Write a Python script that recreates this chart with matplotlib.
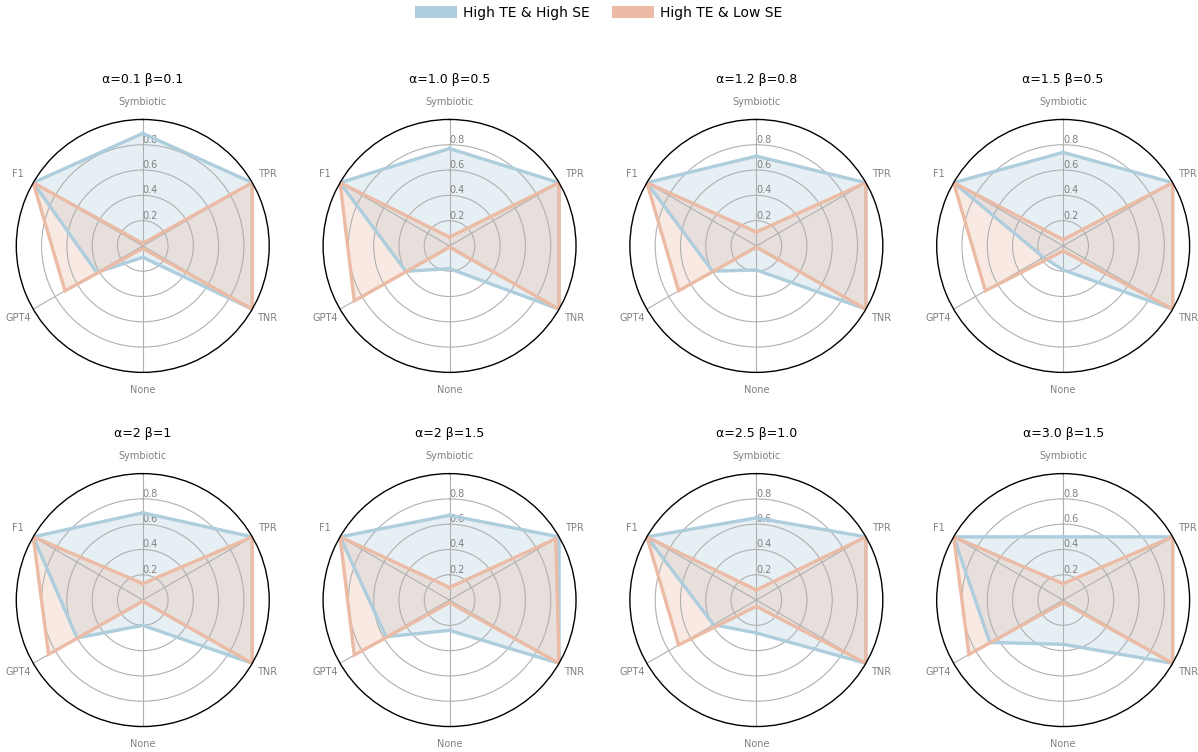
import numpy as np
import matplotlib.pyplot as plt
from matplotlib.patches import Patch

# axes, clockwise from the top
categories = ["Symbiotic", "TPR", "TNR", "None", "GPT4", "F1"]

titles = ["α=0.1 β=0.1", "α=1.0 β=0.5", "α=1.2 β=0.8", "α=1.5 β=0.5",
          "α=2 β=1", "α=2 β=1.5", "α=2.5 β=1.0", "α=3.0 β=1.5"]

# one row per setting: Symbiotic, TPR, TNR, None, GPT4, F1
high_se = [
    [0.89, 1.00, 1.00, 0.09, 0.42, 1.00],
    [0.77, 1.00, 1.00, 0.18, 0.40, 1.00],
    [0.71, 1.00, 1.00, 0.19, 0.40, 1.00],
    [0.74, 1.00, 1.00, 0.19, 0.18, 1.00],
    [0.69, 1.00, 1.00, 0.20, 0.60, 1.00],
    [0.67, 1.00, 1.00, 0.24, 0.58, 1.00],
    [0.65, 1.00, 1.00, 0.26, 0.39, 1.00],
    [0.50, 1.00, 1.00, 0.35, 0.67, 1.00],
]
low_se = [
    [0.02, 1.00, 1.00, 0.02, 0.71, 1.00],
    [0.07, 1.00, 1.00, 0.01, 0.87, 1.00],
    [0.11, 1.00, 1.00, 0.01, 0.71, 1.00],
    [0.05, 1.00, 1.00, 0.04, 0.71, 1.00],
    [0.13, 1.00, 1.00, 0.01, 0.86, 1.00],
    [0.10, 0.97, 1.00, 0.02, 0.87, 1.00],
    [0.08, 1.00, 1.00, 0.05, 0.71, 1.00],
    [0.13, 1.00, 1.00, 0.02, 0.86, 1.00],
]

series_names = ["High TE & High SE", "High TE & Low SE"]
colors = ["#aecddd", "#ebbba5"]

angles = np.linspace(0, 2 * np.pi, len(categories), endpoint=False)
closed = np.concatenate([angles, angles[:1]])

fig, axes = plt.subplots(2, 4, figsize=(11.98, 7.52), dpi=100,
                         subplot_kw=dict(polar=True))
fig.subplots_adjust(left=0.0136, right=0.993, bottom=0.0336, top=0.8414,
                    wspace=0.213, hspace=0.398)

for ax, title, hi, lo in zip(axes.flat, titles, high_se, low_se):
    ax.set_theta_offset(np.pi / 2)
    ax.set_theta_direction(-1)
    for vals, c in zip([hi, lo], colors):
        v = np.concatenate([vals, vals[:1]])
        ax.plot(closed, v, color=c, lw=2.4, solid_joinstyle="miter")
        ax.fill(closed, v, color=c, alpha=0.3)
    ax.set_ylim(0, 1)
    ax.set_xticks(angles)
    ax.set_xticklabels(categories, color="#808080", fontsize=7)
    ax.tick_params(axis="x", pad=2)
    ax.set_yticks([0.2, 0.4, 0.6, 0.8])
    ax.set_yticklabels(["0.2", "0.4", "0.6", "0.8"], color="#808080", fontsize=7)
    ax.set_rlabel_position(0)
    ax.grid(color="#b0b0b0", lw=0.8)
    ax.spines["polar"].set_color("black")
    ax.spines["polar"].set_linewidth(1.0)
    ax.set_title(title, fontsize=9, y=1.145, pad=0)

handles = [Patch(facecolor=c, edgecolor="none") for c in colors]
fig.legend(handles, series_names, loc="center", bbox_to_anchor=(0.5, 0.983),
           ncol=2, frameon=False, fontsize=10, handlelength=3.0,
           handleheight=1.0, handletextpad=0.45, columnspacing=1.6)

fig.savefig("out.png", dpi=100)
